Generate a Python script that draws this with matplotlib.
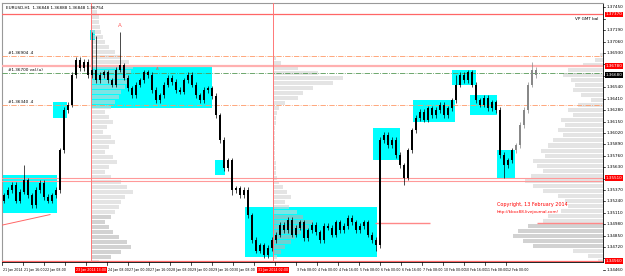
import numpy as np
import matplotlib
matplotlib.use("Agg")
import matplotlib.pyplot as plt
from matplotlib.patches import Rectangle

# EURUSD H1 closes, one entry per plotted bar
closes = [1.3531, 1.3537, 1.3543, 1.3525, 1.3535, 1.3548, 1.3531, 1.3520, 1.3537, 1.3545,
          1.3529, 1.3525, 1.3531, 1.3537, 1.3582, 1.3628, 1.3634, 1.3668, 1.3685, 1.3676,
          1.3683, 1.3668, 1.3674, 1.3662,
          1.3668, 1.3671, 1.3662, 1.3657, 1.3674, 1.3679, 1.3665, 1.3653, 1.3645, 1.3657,
          1.3662, 1.3671, 1.3668, 1.3651, 1.3639, 1.3645, 1.3657, 1.3665, 1.3660, 1.3651,
          1.3649, 1.3662, 1.3668, 1.3657, 1.3645, 1.3639, 1.3651, 1.3653, 1.3644,
          1.3622, 1.3594, 1.3562, 1.3571, 1.3537, 1.3539, 1.3531, 1.3537, 1.3508, 1.3480,
          1.3468, 1.3474, 1.3463, 1.3471, 1.3480, 1.3486, 1.3497, 1.3491, 1.3503, 1.3486,
          1.3494, 1.3500, 1.3482, 1.3491, 1.3497, 1.3489, 1.3480, 1.3496, 1.3494, 1.3486,
          1.3500, 1.3491, 1.3496, 1.3505, 1.3500, 1.3491, 1.3496, 1.3500, 1.3486, 1.3480,
          1.3474,
          1.3594, 1.3600, 1.3588, 1.3594, 1.3577, 1.3565, 1.3551, 1.3582, 1.3605, 1.3619,
          1.3626, 1.3617, 1.3630, 1.3622, 1.3628, 1.3634, 1.3622, 1.3630, 1.3639, 1.3657,
          1.3668, 1.3662, 1.3671, 1.3657, 1.3639, 1.3634, 1.3642, 1.3630, 1.3637, 1.3628,
          1.3577, 1.3565, 1.3571, 1.3582, 1.3588, 1.3611, 1.3628, 1.3657, 1.3674, 1.3668]
first_open = 1.3525
high_spikes = {5: 1.3565, 22: 1.3717, 23: 1.3712, 29: 1.3717, 113: 1.3668, 132: 1.3683}
low_spikes = {57: 1.3531, 65: 1.3460, 93: 1.3468, 100: 1.3543, 125: 1.3551}

# cyan range boxes: (start bar, end bar, low, high)
box_start = [-0.5, 12.25, 21.5, 21.75, 52.75, 60.25, 92.25, 102.25, 112.0, 116.5, 123.25]
box_end = [13.25, 15.75, 22.75, 52.0, 55.25, 93.25, 99.0, 112.75, 118.0, 123.25, 127.75]
box_low = [1.3511, 1.3619, 1.3708, 1.3630, 1.3554, 1.3461, 1.3571, 1.3614, 1.3657, 1.3622, 1.3551]
box_high = [1.3554, 1.3637, 1.3719, 1.3679, 1.3571, 1.3518, 1.3608, 1.3639, 1.3674, 1.3645, 1.3582]

# volume profiles (width in pixels, top level first)
prof1 = [6, 8, 8, 9, 10, 12, 14, 18, 24, 30, 38, 42, 40, 38, 36, 34, 30, 28, 24, 20, 14,
         18, 22, 16, 12, 20, 24, 18, 14, 22, 26, 18, 14, 20, 30, 36, 42, 34, 30, 28, 24,
         20, 14, 18, 22, 28, 36, 40, 30, 20, 8]
prof2 = [3, 8, 25, 45, 70, 60, 40, 30, 25, 12, 6, 4, 3, 3, 2, 2, 2, 2, 2, 2, 2, 3, 3, 3,
         4, 6, 10, 14, 18, 12, 16, 24, 30, 40, 36, 28, 22, 18, 12, 8, 4]
prof3 = [3, 8, 20, 35, 40, 32, 28, 30, 22, 12, 25, 35, 30, 42, 38, 45, 40, 50, 55, 62,
         58, 70, 66, 60, 72, 78, 70, 60, 45, 38, 35, 42, 55, 60, 75, 85, 90, 80, 70, 30, 15, 5]
prof_anchor = [21.75, 67.25, 149.75]
prof_top = [1.3740, 1.3688, 1.3691]
prof_bottom = [1.3455, 1.3461, 1.3457]
value_area = [(1.3459, 1.3509), (1.3465, 1.3512), (1.3469, 1.3497)]

tick_times = ["21 Jan 2014", "21 Jan 16:00", "22 Jan 08:00", "23 Jan 00:00", "23 Jan 16:00",
              "24 Jan 08:00", "27 Jan 00:00", "27 Jan 16:00", "28 Jan 08:00", "29 Jan 00:00",
              "29 Jan 16:00", "30 Jan 08:00", "31 Jan 00:00", "31 Jan 16:00", "3 Feb 08:00",
              "4 Feb 00:00", "4 Feb 16:00", "5 Feb 08:00", "6 Feb 00:00", "6 Feb 16:00",
              "7 Feb 08:00", "10 Feb 00:00", "10 Feb 16:00", "11 Feb 08:00", "12 Feb 00:00"]
marked_times = [(21.75, "23 Jan 2014 13:00"), (67.25, "31 Jan 2014 02:00")]
marked_prices = [(1.3737, "red"), (1.3678, "red"), (1.3668, "black"), (1.3551, "red"), (1.3456, "red")]

FS = 3.0
TFS = 2.35
fig = plt.figure(figsize=(6.25, 2.76), dpi=100)
ax = fig.add_axes([2 / 625, 14 / 276, 601 / 625, 259 / 276])
ax.set_xlim(-0.5, 149.75)
ax.set_ylim(1.3455, 1.3750)
ax.set_xticks([])
ax.set_yticks([])
for s in ["left", "top"]:
    ax.spines[s].set_color("#999999")
    ax.spines[s].set_linewidth(0.8)
ax.spines["right"].set_color("black")
ax.spines["right"].set_linewidth(0.6)
ax.spines["bottom"].set_color("black")
ax.spines["bottom"].set_linewidth(0.6)

# boxes
for x0, x1, lo, hi in zip(box_start, box_end, box_low, box_high):
    ax.add_patch(Rectangle((x0, lo), x1 - x0, hi - lo, color="#00ffff", lw=0, zorder=1))

# volume profiles
for k, prof in enumerate([prof1, prof2, prof3]):
    levels = np.linspace(prof_top[k], prof_bottom[k], len(prof))
    step = abs(levels[1] - levels[0])
    va_lo, va_hi = value_area[k]
    for lev, w in zip(levels, prof):
        wb = w / 4
        left = prof_anchor[k] - wb if k == 2 else prof_anchor[k]
        dark = va_lo <= lev <= va_hi
        ax.add_patch(Rectangle((left, lev - step / 2), wb, step * 0.8,
                               color="#b4b4b4" if dark else "#d2d2d2",
                               alpha=0.6, lw=0, zorder=2))

# horizontal levels
ax.axhline(1.3737, color="#ff6666", lw=0.9, zorder=3)
ax.axhline(1.3690, color="#ff9966", lw=0.6, ls="-.", zorder=3)
ax.axhline(1.3678, color="#ffb0b0", lw=1.6, zorder=3)
ax.axhline(1.3670, color="#559955", lw=0.6, ls="-.", zorder=3)
ax.axhline(1.3634, color="#ff9966", lw=0.6, ls="-.", zorder=3)
ax.axhline(1.35507, color="#ff9999", lw=0.8, zorder=3)
ax.axhline(1.35473, color="#ff9999", lw=0.8, zorder=3)
ax.axhline(1.3456, color="#ff6666", lw=0.9, zorder=3)
ax.hlines([1.3499, 1.3499], [92.75, 133.25], [106.5, 149.75], color="#ff8888", lw=1.0, zorder=3)
ax.plot([-0.5, 11.5], [1.3497, 1.3509], color="#ff6666", lw=0.7, zorder=3)
ax.axvline(21.75, color="#ff7777", lw=0.7, zorder=3)
ax.axvline(67.25, color="#ff7777", lw=0.7, zorder=3)

# candles
opens = [first_open] + closes[:-1]
for i, (o, c) in enumerate(zip(opens, closes)):
    top, bot = max(o, c), min(o, c)
    hi = high_spikes.get(i, top + 0.0003)
    lo = low_spikes.get(i, bot - 0.0003)
    col = "#888888" if i >= 128 else "black"
    ax.vlines(i, lo, hi, color=col, lw=0.5, zorder=4)
    ax.add_patch(Rectangle((i - 0.25, bot), 0.5, max(top - bot, 0.00008),
                           color=col, lw=0, zorder=4))

# markers and notes
ax.text(29, 1.3721, "A", color="#ff5555", fontsize=4, ha="center", va="bottom", zorder=5)
ax.text(38.25, 1.3673, "A", color="#ff5555", fontsize=3, ha="center", va="bottom", zorder=5)
ax.text(1, 1.3691, "#1.36904 .4", fontsize=FS, va="bottom", zorder=5)
ax.text(1, 1.3671, "#1.36700 val.(u)", fontsize=FS, va="bottom", zorder=5,
        bbox=dict(facecolor="white", edgecolor="none", pad=0.3))
ax.text(1, 1.3635, "#1.36340 .4", fontsize=FS, va="bottom", zorder=5)
ax.text(0.993, 0.935, "VP GMT bal", fontsize=FS, ha="right", transform=ax.transAxes, zorder=5)
ax.text(123.25, 1.3519, "Copyright, 13 February 2014", color="red", fontsize=FS + 0.5, zorder=5)
ax.text(123.25, 1.3511, "http://kbxx88.livejournal.com/", color="red", fontsize=FS, zorder=5)
fig.text(6 / 625, 1 - 8 / 276, "EURUSD,H1  1.36848 1.36888 1.36848 1.36754",
         fontsize=FS, va="center")

# price scale
ytr = ax.get_yaxis_transform()
for p in np.arange(1.3745, 1.3440, -0.0013):
    ax.plot([1.0, 1.004], [p, p], color="black", lw=0.5, transform=ytr, clip_on=False)
    if any(abs(p - m) < 0.0007 for m, _ in marked_prices):
        continue
    ax.text(1.006, p, "%.5f" % p, fontsize=FS, va="center", transform=ytr, clip_on=False)
for p, bg in marked_prices:
    ax.text(1.004, p, "%.5f" % p, fontsize=FS, va="center", color="white", transform=ytr,
            clip_on=False, bbox=dict(facecolor=bg, edgecolor="none", pad=0.6), zorder=6)

# time scale
xtr = ax.get_xaxis_transform()
for k, lab in enumerate(tick_times):
    x_px = 2 + 21 * k
    xb = x_px / 4 - 1
    ax.plot([xb, xb], [0, -0.012], color="black", lw=0.5, transform=xtr, clip_on=False)
    if any(x_px < (m + 1) * 4 + 14 and x_px + 20 > (m + 1) * 4 - 14 for m, _ in marked_times):
        continue
    ax.text(xb + 0.3, -0.022, lab, fontsize=TFS, va="top", ha="left", transform=xtr, clip_on=False)
for xb, lab in marked_times:
    ax.text(xb, -0.022, lab, fontsize=TFS, va="top", ha="center", color="white",
            transform=xtr, clip_on=False, zorder=6,
            bbox=dict(facecolor="red", edgecolor="none", pad=0.6))

fig.savefig("out.png", dpi=100)
